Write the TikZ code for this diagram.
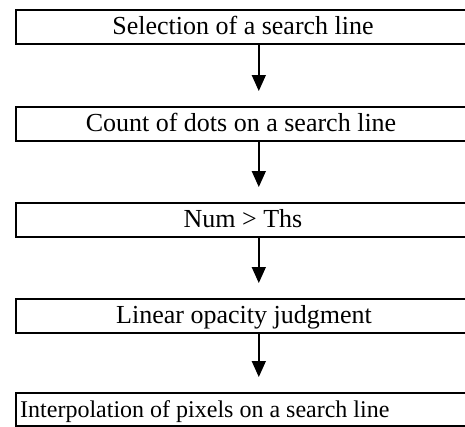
\documentclass[tikz,border=0pt]{standalone}
\usepackage{fontspec}
\setmainfont{Liberation Serif}
\usetikzlibrary{arrows.meta}
\begin{document}
\begin{tikzpicture}[x=1pt,y=-1pt,
  box/.style={draw, line width=1.6pt, minimum width=486pt, minimum height=34pt, anchor=north west, inner sep=0pt},
  lbl/.style={font=\fontsize{26}{31}\selectfont, anchor=base, inner sep=0pt},
  arr/.style={line width=1.5pt, -{Triangle[length=16pt,width=14pt]}}]
\useasboundingbox (0,0) rectangle (465,426);
\clip (0,0) rectangle (465,426);
\node[box] (b1) at (15,9) {};
\node[box] (b2) at (15,106) {};
\node[box] (b3) at (15,202) {};
\node[box] (b4) at (15,298) {};
\node[box, minimum height=33pt] (b5) at (15,392) {};
\node[lbl] (t1) at (243,34) {Selection of a search line};
\node[lbl] (t2) at (241,131) {Count of dots on a search line};
\node[lbl] (t3) at (243,227) {Num > Ths};
\node[lbl] (t4) at (244,323) {Linear opacity judgment};
\node[lbl, font=\fontsize{24}{29}\selectfont, anchor=base west] (t5) at (20,417) {Interpolation of pixels on a search line};
\draw[arr] (b1.south) -- ([yshift=15pt]b2.north);
\draw[arr] (b2.south) -- ([yshift=15pt]b3.north);
\draw[arr] (b3.south) -- ([yshift=15pt]b4.north);
\draw[arr] (b4.south) -- ([yshift=15pt]b5.north);
\end{tikzpicture}
\end{document}
